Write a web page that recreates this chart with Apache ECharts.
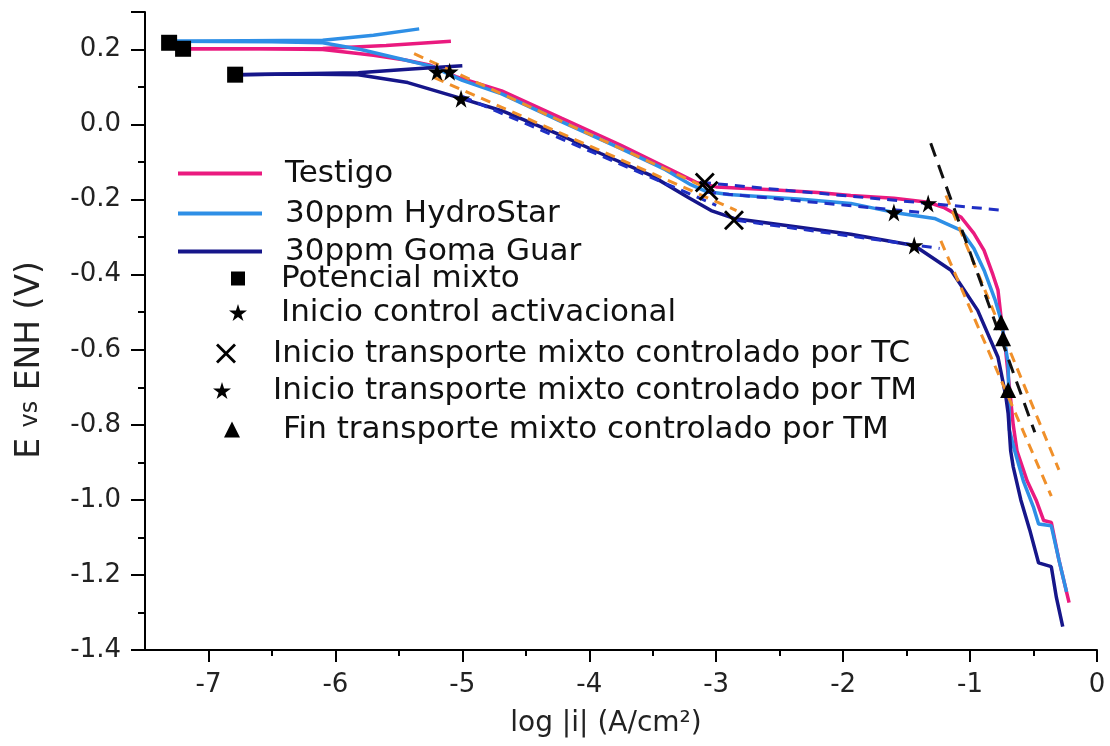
<!DOCTYPE html>
<html>
<head>
<meta charset="utf-8">
<script src="https://cdn.jsdelivr.net/npm/echarts@6/dist/echarts.min.js"></script>
<style>
  html, body { margin: 0; padding: 0; background: #fff; }
  #chart { width: 1110px; height: 746px; }
</style>
</head>
<body>
<div id="chart"></div>
<script>
// curvas de polarizacion, [log|i|, E]
var testigoCat = [[-7.20,0.202],[-6.6,0.202],[-6.1,0.200],[-5.7,0.185],[-5.45,0.172],[-5.25,0.158],[-5.05,0.128],[-4.69,0.09],[-4.22,0.017],[-3.75,-0.055],[-3.3,-0.13],[-3.15,-0.155],[-3.0,-0.166],[-2.6,-0.173],[-2.2,-0.181],[-1.94,-0.189],[-1.6,-0.196],[-1.33,-0.207],[-1.2,-0.222],[-1.07,-0.247],[-0.97,-0.29],[-0.89,-0.335],[-0.82,-0.4],[-0.78,-0.441],[-0.756,-0.513],[-0.72,-0.6],[-0.69,-0.7],[-0.66,-0.8],[-0.63,-0.87],[-0.55,-0.95],[-0.48,-1.0],[-0.42,-1.055],[-0.36,-1.06],[-0.3,-1.16],[-0.22,-1.274]];
var testigoAno = [[-7.20,0.202],[-6.1,0.203],[-5.6,0.211],[-5.09,0.222]];
var hydroCat = [[-7.31,0.222],[-6.5,0.221],[-6.1,0.218],[-5.8,0.2],[-5.5,0.176],[-5.24,0.155],[-5.0,0.118],[-4.69,0.082],[-4.22,0.008],[-3.75,-0.064],[-3.4,-0.12],[-3.2,-0.16],[-3.08,-0.178],[-2.9,-0.186],[-2.33,-0.199],[-1.94,-0.21],[-1.6,-0.234],[-1.28,-0.25],[-1.07,-0.282],[-0.97,-0.33],[-0.89,-0.388],[-0.80,-0.47],[-0.756,-0.521],[-0.70,-0.636],[-0.69,-0.814],[-0.65,-0.867],[-0.58,-0.95],[-0.5,-1.02],[-0.46,-1.064],[-0.36,-1.069],[-0.3,-1.16],[-0.24,-1.245]];
var hydroAno = [[-7.31,0.222],[-6.1,0.225],[-5.7,0.238],[-5.34,0.255]];
var guarCat = [[-6.79,0.133],[-6.3,0.135],[-5.82,0.133],[-5.43,0.112],[-5.03,0.072],[-4.69,0.037],[-4.22,-0.029],[-3.91,-0.077],[-3.51,-0.136],[-3.22,-0.194],[-3.04,-0.229],[-2.86,-0.25],[-2.33,-0.274],[-1.94,-0.292],[-1.44,-0.322],[-1.15,-0.388],[-0.94,-0.495],[-0.78,-0.62],[-0.72,-0.72],[-0.70,-0.77],[-0.68,-0.87],[-0.66,-0.912],[-0.6,-1.0],[-0.53,-1.08],[-0.46,-1.168],[-0.36,-1.178],[-0.32,-1.26],[-0.27,-1.338]];
var guarAno = [[-6.79,0.133],[-5.82,0.138],[-5.4,0.148],[-5.0,0.157]];

// rectas de ajuste (Tafel)
var orangeFits = [
  [[-5.38,0.189],[-3.12,-0.162]],
  [[-5.22,0.125],[-2.84,-0.229]],
  [[-1.19,-0.189],[-0.30,-0.92]],
  [[-1.23,-0.31],[-0.36,-0.99]]
];
var blueFits = [
  [[-5.0,0.075],[-3.0,-0.215]],
  [[-3.12,-0.154],[-0.72,-0.229]],
  [[-3.08,-0.18],[-1.35,-0.235]],
  [[-2.84,-0.255],[-1.24,-0.33]]
];
var blackFit = [[-1.31,-0.05],[-0.49,-0.82]];

// puntos
var mixedPot = [[-7.31,0.218],[-7.20,0.202],[-6.79,0.133]];
var activStart = [[-5.20,0.141],[-5.10,0.141],[-5.01,0.069]];
var tcStart = [[-3.09,-0.154],[-3.06,-0.176],[-2.86,-0.255]];
var tmStart = [[-1.33,-0.21],[-1.60,-0.234],[-1.44,-0.322]];
var tmEnd = [[-0.756,-0.527],[-0.74,-0.569],[-0.70,-0.707]];

var xTicks = [-7,-6,-5,-4,-3,-2,-1,0];
var xMinor = [-6.5,-5.5,-4.5,-3.5,-2.5,-1.5,-0.5];

var starPath = 'path://M50,0 L61,35 L98,35 L68,57 L79,91 L50,70 L21,91 L32,57 L2,35 L39,35 Z';
var crossPath = 'path://M0,2 L2,0 L10,8 L18,0 L20,2 L12,10 L20,18 L18,20 L10,12 L2,20 L0,18 L8,10 Z';
var linePath = 'path://M0,0 L84,0 L84,4 L0,4 Z';

var FONT = 'DejaVu Sans';

function lineSeries(name, data, color) {
    return {name: name, type: 'line', data: data, symbol: 'none', showSymbol: false,
        lineStyle: {color: color, width: 3.5}, itemStyle: {color: color}, z: 3};
}
function dashSeries(data, color, dash) {
    return {type: 'line', data: data, symbol: 'none', showSymbol: false,
        lineStyle: {color: color, width: 3, type: dash}, z: 4};
}
function markSeries(name, data, symbol, size) {
    return {name: name, type: 'scatter', data: data, symbol: symbol, symbolSize: size,
        itemStyle: {color: '#000', opacity: 1}, z: 6};
}
function oneLegend(name, icon, left, top, w, h, pad) {
    return {data: [{name: name, icon: icon}], left: left, top: top, itemWidth: w, itemHeight: h,
        padding: 0, selectedMode: false, itemStyle: {opacity: 1},
        textStyle: {fontFamily: FONT, fontSize: 31, color: '#111', padding: [0, 0, 0, pad]}};
}

var series = [
    lineSeries('Testigo', testigoCat, '#ea1a7f'),
    lineSeries('Testigo', testigoAno, '#ea1a7f'),
    lineSeries('30ppm HydroStar', hydroCat, '#2e8fe6'),
    lineSeries('30ppm HydroStar', hydroAno, '#2e8fe6'),
    lineSeries('30ppm Goma Guar', guarCat, '#16168a'),
    lineSeries('30ppm Goma Guar', guarAno, '#16168a')
];
orangeFits.forEach(function (d) { series.push(dashSeries(d, '#f0902a', [10, 7])); });
blueFits.forEach(function (d) { series.push(dashSeries(d, '#1f2fc4', [10, 7])); });
series.push(dashSeries(blackFit, '#111', [14, 9]));
series.push(markSeries('Potencial mixto', mixedPot, 'rect', 16));
series.push(markSeries('Inicio control activacional', activStart, starPath, 18));
series.push(markSeries('Inicio transporte mixto controlado por TC', tcStart, crossPath, 20));
series.push(markSeries('Inicio transporte mixto controlado por TM', tmStart, starPath, 18));
series.push(markSeries('Fin transporte mixto controlado por TM', tmEnd, 'triangle', 16));

var axisBlack = {color: '#000', width: 2};

var myChart = echarts.init(document.getElementById('chart'));
var option = {
    animation: false,
    backgroundColor: '#fff',
    grid: {left: 145, right: 13, top: 12, bottom: 96},
    legend: [
        oneLegend('Testigo', linePath, 178, 158, 84, 4, 18),
        oneLegend('30ppm HydroStar', linePath, 178, 198, 84, 4, 18),
        oneLegend('30ppm Goma Guar', linePath, 178, 236, 84, 4, 18),
        oneLegend('Potencial mixto', 'rect', 231, 263, 14, 14, 31),
        oneLegend('Inicio control activacional', starPath, 229, 297, 18, 18, 29),
        oneLegend('Inicio transporte mixto controlado por TC', crossPath, 216, 338, 20, 20, 32),
        oneLegend('Inicio transporte mixto controlado por TM', starPath, 213, 375, 18, 18, 37),
        oneLegend('Fin transporte mixto controlado por TM', 'triangle', 224, 414, 16, 16, 38)
    ],
    xAxis: [{
        type: 'value', min: -7.5, max: 0,
        name: 'log |i| (A/cm²)', nameLocation: 'middle', nameGap: 60,
        nameTextStyle: {fontFamily: FONT, fontSize: 28, color: '#222', padding: [0, 30, 0, 0]},
        axisLine: {show: true, onZero: false, lineStyle: axisBlack},
        axisTick: {show: true, customValues: xTicks, length: 12, lineStyle: axisBlack},
        axisLabel: {customValues: xTicks, fontFamily: FONT, fontSize: 26, color: '#222', margin: 22},
        splitLine: {show: false}
    }, {
        type: 'value', min: -7.5, max: 0, position: 'bottom',
        axisLine: {show: false, onZero: false},
        axisTick: {show: true, customValues: xMinor, length: 6, lineStyle: axisBlack},
        axisLabel: {show: false},
        splitLine: {show: false}
    }],
    yAxis: {
        type: 'value', min: -1.4, max: 0.3, interval: 0.2,
        name: 'E {s|vs} ENH (V)', nameLocation: 'middle', nameGap: 98,
        nameTextStyle: {fontFamily: FONT, fontSize: 33, color: '#222', padding: [0, 58, 0, 0],
            rich: {s: {fontFamily: FONT, fontSize: 24, color: '#222'}}},
        axisLine: {show: true, onZero: false, lineStyle: axisBlack},
        axisTick: {show: true, length: 14, lineStyle: axisBlack},
        minorTick: {show: true, splitNumber: 2, length: 7, lineStyle: axisBlack},
        axisLabel: {formatter: function (v) { return v.toFixed(1); }, showMaxLabel: false,
            fontFamily: FONT, fontSize: 26, color: '#222', margin: 24},
        splitLine: {show: false}
    },
    series: series
};
myChart.setOption(option);
</script>
</body>
</html>
